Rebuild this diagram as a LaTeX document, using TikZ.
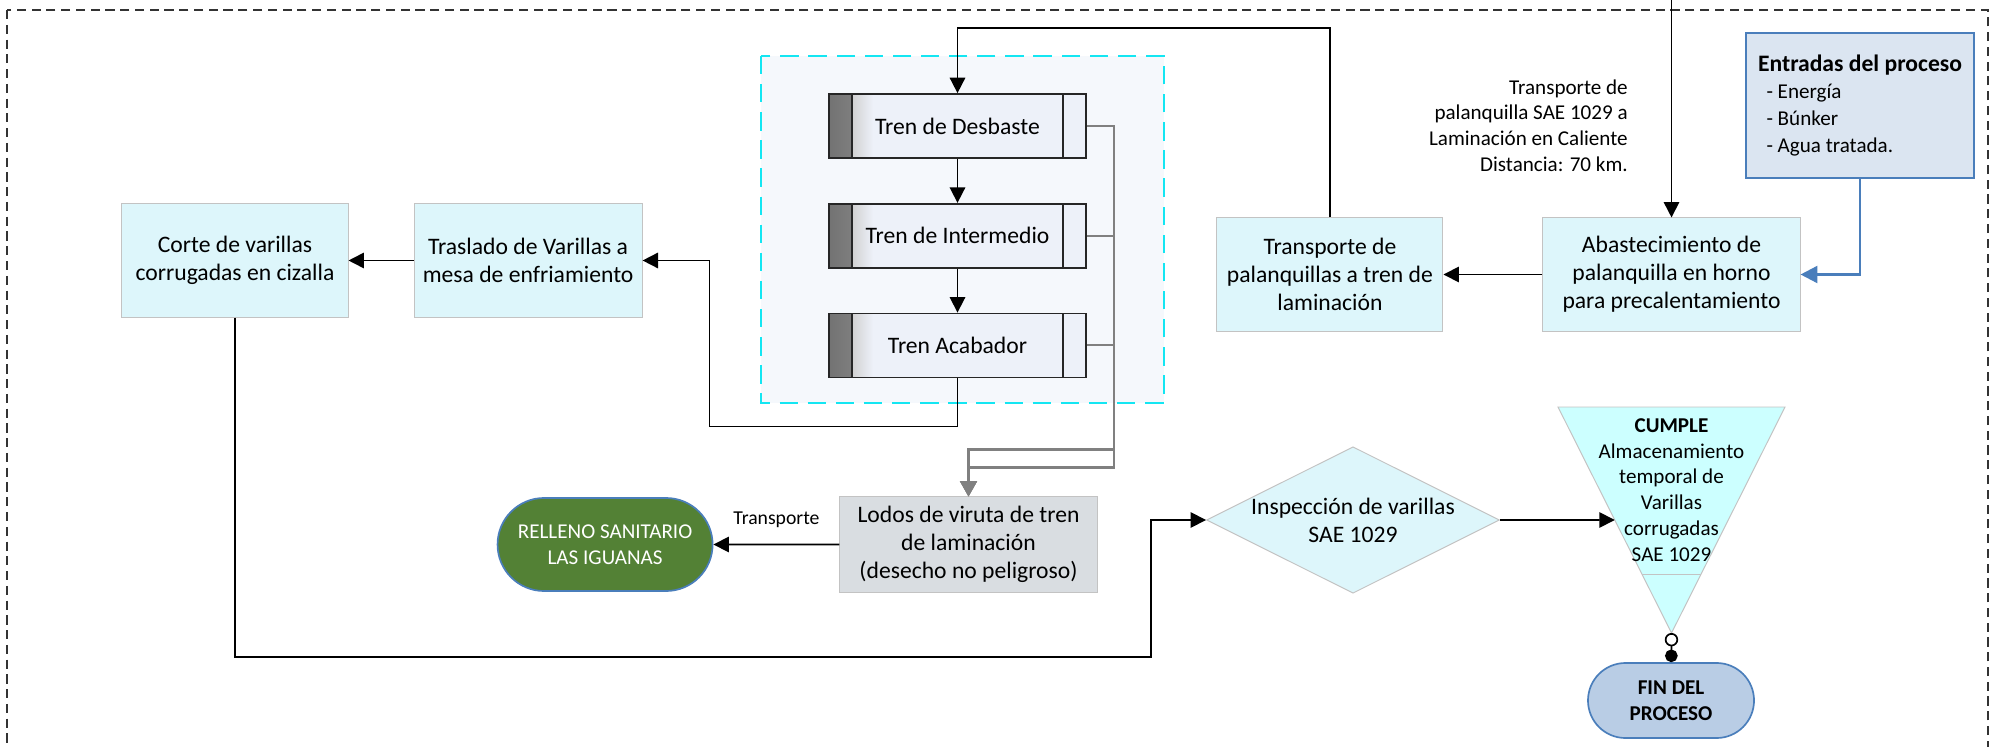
\documentclass[tikz,border=0pt]{standalone}
\usepackage{fontspec}
\setmainfont{Carlito}
\usetikzlibrary{shapes.geometric, shapes.misc, arrows.meta, positioning, calc}

\definecolor{cajacian}{HTML}{DDF6FB}
\definecolor{bordegris}{HTML}{C3C3C3}
\definecolor{fondozona}{HTML}{F5F8FC}
\definecolor{cianzona}{HTML}{14E6F2}
\definecolor{trenfill}{HTML}{EDF1F9}
\definecolor{lodosfill}{HTML}{D9DDE1}
\definecolor{verderelleno}{HTML}{538135}
\definecolor{azulborde}{HTML}{4A7EBB}
\definecolor{entradafill}{HTML}{DBE5F1}
\definecolor{finfill}{HTML}{B9CDE5}
\definecolor{trifill}{HTML}{CCFFFF}
\definecolor{gristren}{HTML}{808080}

\newcommand{\letraCaja}{\fontsize{16.8}{20}\selectfont}
\newcommand{\letraNota}{\fontsize{15}{18.3}\selectfont}
\newcommand{\letraChica}{\fontsize{14}{17}\selectfont}

\begin{document}
\begin{tikzpicture}[
    x=0.025cm, y=-0.025cm,
    proceso/.style={rectangle, draw=bordegris, fill=cajacian, line width=0.7pt, minimum width=5.65cm, minimum height=2.825cm, inner sep=2pt, align=center, font=\letraCaja},
    tren/.style={rectangle, draw=black!85, fill=trenfill, line width=1.2pt, minimum width=6.425cm, minimum height=1.6cm, inner sep=0pt, font=\letraCaja,
        path picture={
            \shade[left color=black!55, right color=black!5] (path picture bounding box.south west) rectangle ([xshift=0.575cm]path picture bounding box.north west);
            \shade[left color=black!18, right color=trenfill] ([xshift=0.575cm]path picture bounding box.south west) rectangle ([xshift=1.1cm]path picture bounding box.north west);
            \draw[line width=1.2pt, black!85] ([xshift=0.575cm]path picture bounding box.south west) -- ([xshift=0.575cm]path picture bounding box.north west);
            \draw[line width=1.2pt, black!85] ([xshift=-0.575cm]path picture bounding box.south east) -- ([xshift=-0.575cm]path picture bounding box.north east);
        }},
    desecho/.style={rectangle, draw=bordegris, fill=lodosfill, line width=0.7pt, minimum width=6.425cm, minimum height=2.375cm, inner sep=2pt, align=center, font=\letraCaja},
    terminal/.style={rounded rectangle, draw=azulborde, line width=1.2pt, inner sep=0pt, align=center},
    decision/.style={diamond, aspect=2, draw=bordegris, fill=cajacian, line width=0.7pt, minimum width=7.25cm, minimum height=3.6cm, inner sep=0pt, align=center, font=\letraCaja},
    entrada/.style={rectangle, draw=azulborde, fill=entradafill, line width=1.8pt, minimum width=5.7cm, minimum height=3.625cm, inner sep=0pt, align=left, font=\fontsize{15}{19.3}\selectfont},
    nota/.style={inner sep=0pt, align=right, font=\letraNota},
    flecha/.style={line width=1.2pt, -{Triangle[length=11pt, width=11pt]}},
    flechagris/.style={line width=1.5pt, gristren, -{Triangle[length=11pt, width=12pt]}},
    flechaazul/.style={line width=1.8pt, azulborde, -{Triangle[length=12pt, width=12pt]}},
    marco/.style={draw=black!80, line width=0.9pt, dash pattern=on 6.5pt off 4pt},
    zona/.style={draw=cianzona, fill=fondozona, line width=1.5pt, dash pattern=on 13pt off 7pt}
]
\useasboundingbox (0,0) rectangle (2003,747);

% marco general y zona de trenes
\draw[marco] (7,10) rectangle (1988,770);
\draw[zona] (761,56) rectangle (1164,403);

% fila superior
\node (corte) [proceso] at (235,260.5) {Corte de varillas\\corrugadas en cizalla};
\node (traslado) [proceso, minimum width=5.7cm, right=1.625cm of corte] {Traslado de Varillas a\\mesa de enfriamiento};
\node (abast) [proceso, minimum width=6.425cm] at (1671.5,274.5) {Abastecimiento de\\palanquilla en horno\\para precalentamiento};
\node (transporte) [proceso, left=2.475cm of abast] {Transporte de\\palanquillas a tren de\\laminaci\'on};
\node (entradas) [entrada] at (1860,105.5) {\textbf{\fontsize{16.8}{20}\selectfont Entradas del proceso}\\
    \hspace*{6pt}- Energ\'ia\\\hspace*{6pt}- B\'unker\\\hspace*{6pt}- Agua tratada.};
\node (rotulo) [nota, anchor=east] at (1628,125.5) {Transporte de\\palanquilla SAE 1029 a\\Laminaci\'on en Caliente\\Distancia: 70 km.};
\coordinate (origen) at (1671.5,0);

% trenes de laminacion
\node (desbaste) [tren] at (957.5,126) {Tren de Desbaste};
\node (intermedio) [tren, below=1.1cm of desbaste] {Tren de Intermedio};
\node (acabador) [tren, below=1.1cm of intermedio] {Tren Acabador};

% fila inferior
\node (lodos) [desecho] at (968.5,544.5) {Lodos de viruta de tren\\de laminaci\'on\\(desecho no peligroso)};
\node (relleno) [terminal, fill=verderelleno, text=white, minimum width=5.375cm, minimum height=2.325cm, font=\letraNota, left=3.15cm of lodos] {RELLENO SANITARIO\\LAS IGUANAS};
\node (inspeccion) [decision] at (1353,520) {Inspecci\'on de varillas\\SAE 1029};

% almacenamiento
\coordinate (tri izq) at (1558,407);
\coordinate (tri der) at (1785,407);
\coordinate (tri punta) at (1671.5,633);
\coordinate (tri entrada) at ($(tri izq)!0.5!(tri punta)$);
\filldraw[fill=trifill, draw=bordegris, line width=0.7pt] (tri izq) -- (tri der) -- (tri punta) -- cycle;
\draw[bordegris, line width=0.7pt] ($(tri izq)!0.743!(tri punta)$) -- ($(tri der)!0.743!(tri punta)$);
\node (almacen) [align=center, inner sep=0pt, font=\letraNota] at (1671.5,490) {\textbf{CUMPLE}\\Almacenamiento\\temporal de\\Varillas\\corrugadas\\SAE 1029};
\node (fin) [terminal, fill=finfill, minimum width=4.15cm, minimum height=1.875cm, font=\letraNota\bfseries] at (1671,700.5) {FIN DEL\\PROCESO};

% conectores
\draw[flecha] (origen) -- (abast);
\draw[flechaazul] (entradas.south) |- (abast.east);
\draw[flecha] (abast) -- (transporte);
\draw[flecha] (transporte.north) |- ($(desbaste.north)+(0,-65)$) -- (desbaste.north);
\draw[flecha] (desbaste) -- (intermedio);
\draw[flecha] (intermedio) -- (acabador);
\draw[flecha] (acabador.south) |- ($(traslado.east)+(67,166)$) |- (traslado.east);
\draw[flecha] (traslado) -- (corte);
\draw[flecha] (corte.south) |- ($(inspeccion.west)+(-55,137)$) |- (inspeccion.west);
\draw[flecha] (inspeccion) -- (tri entrada);
\draw[line width=1.2pt, {Circle[open, length=9.5pt, width=9.5pt]}-{Circle[length=9pt, width=9pt]}] (tri punta) -- (fin);

\draw[flechagris] (desbaste.east) -- ++(27,0) |- ($(lodos.north)+(0,-47)$) -- (lodos.north);
\draw[flechagris] (intermedio.east) -- ++(27,0) |- ($(lodos.north)+(0,-47)$) -- (lodos.north);
\draw[flechagris] (acabador.east) -- ++(27,0) |- ($(lodos.north)+(0,-29)$) -- (lodos.north);

\draw[flecha] (lodos) -- node[above=8pt, font=\letraChica] {Transporte} (relleno);

\end{tikzpicture}
\end{document}
